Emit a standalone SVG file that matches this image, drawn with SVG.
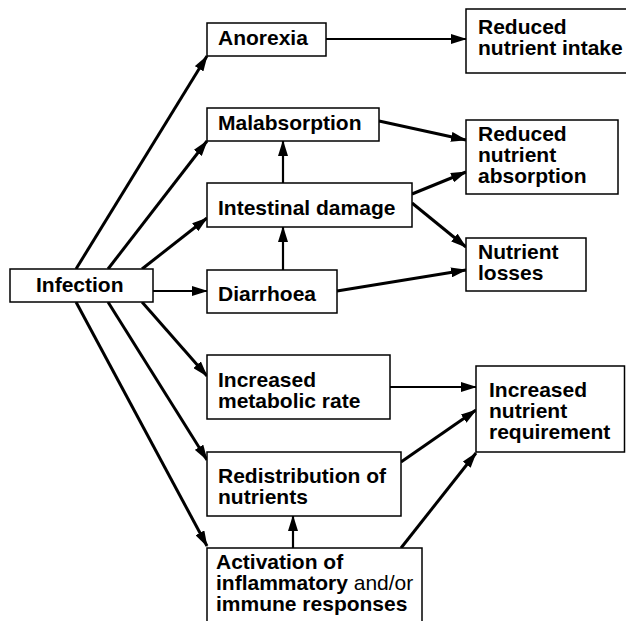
<svg xmlns="http://www.w3.org/2000/svg" width="626" height="621" viewBox="0 0 626 621">
<style>
rect{fill:#fff;stroke:#000;stroke-width:1.5}
text{font-family:"Liberation Sans",Arial,sans-serif;font-size:21px;font-weight:bold;fill:#000}
.n{font-weight:normal}
.c line{stroke:#000;stroke-width:3;fill:none}
.c line.t{stroke-width:2.2}
</style>
<defs>
<marker id="ah" viewBox="0 0 16 10" refX="15" refY="5" markerWidth="16" markerHeight="10" markerUnits="userSpaceOnUse" orient="auto">
<path d="M0,0 L16,5 L0,10 Z" fill="#000"/>
</marker>
</defs>
<rect x="0" y="0" width="626" height="621" style="stroke:none"/>
<g class="c" id="connectors">
<line class="t" x1="326" y1="39" x2="466" y2="39" marker-end="url(#ah)"/>
<line x1="379" y1="121" x2="466" y2="140" marker-end="url(#ah)"/>
<line x1="412" y1="194" x2="466" y2="172" marker-end="url(#ah)"/>
<line x1="412" y1="203" x2="466" y2="247" marker-end="url(#ah)"/>
<line x1="337" y1="291" x2="466" y2="270" marker-end="url(#ah)"/>
<line class="t" x1="390" y1="387" x2="476" y2="387" marker-end="url(#ah)"/>
<line x1="401" y1="462" x2="476" y2="410" marker-end="url(#ah)"/>
<line x1="401" y1="548" x2="476" y2="453" marker-end="url(#ah)"/>
<line class="t" x1="283" y1="183" x2="283" y2="141" marker-end="url(#ah)"/>
<line class="t" x1="283" y1="270" x2="283" y2="227" marker-end="url(#ah)"/>
<line class="t" x1="293" y1="548" x2="293" y2="516" marker-end="url(#ah)"/>
<line class="t" x1="153" y1="291" x2="207" y2="291" marker-end="url(#ah)"/>
<line x1="76" y1="269" x2="207" y2="56" marker-end="url(#ah)"/>
<line x1="108" y1="269" x2="207" y2="141" marker-end="url(#ah)"/>
<line x1="142" y1="269" x2="207" y2="218" marker-end="url(#ah)"/>
<line x1="142" y1="302" x2="207" y2="376" marker-end="url(#ah)"/>
<line x1="108" y1="302" x2="207" y2="460" marker-end="url(#ah)"/>
<line x1="76" y1="302" x2="207" y2="546" marker-end="url(#ah)"/>
</g>
<g id="infection"><rect x="10" y="269" width="143" height="33"/><text x="36" y="292">Infection</text></g>
<g id="anorexia"><rect x="207" y="23" width="119" height="33"/><text x="218" y="45">Anorexia</text></g>
<g id="malabsorption"><rect x="207" y="108" width="172" height="33"/><text x="218" y="130">Malabsorption</text></g>
<g id="intestinal"><rect x="207" y="183" width="205" height="44"/><text x="218" y="215">Intestinal damage</text></g>
<g id="diarrhoea"><rect x="207" y="270" width="130" height="43"/><text x="218" y="301">Diarrhoea</text></g>
<g id="metabolic"><rect x="207" y="355" width="183" height="64"/><text x="218" y="387">Increased</text><text x="218" y="408">metabolic rate</text></g>
<g id="redistribution"><rect x="207" y="452" width="194" height="64"/><text x="218" y="483">Redistribution of</text><text x="218" y="504">nutrients</text></g>
<g id="activation"><rect x="207" y="548" width="215" height="80"/><text x="216" y="569">Activation of</text><text x="216" y="590">inflammatory <tspan class="n">and/or</tspan></text><text x="216" y="611">immune responses</text></g>
<g id="intake"><rect x="466" y="9" width="170" height="64"/><text x="478" y="34">Reduced</text><text x="478" y="55">nutrient intake</text></g>
<g id="absorption"><rect x="466" y="120" width="152" height="74"/><text x="478" y="141">Reduced</text><text x="478" y="162">nutrient</text><text x="478" y="183">absorption</text></g>
<g id="losses"><rect x="466" y="238" width="120" height="53"/><text x="478" y="259">Nutrient</text><text x="478" y="280">losses</text></g>
<g id="requirement"><rect x="476" y="366" width="148.5" height="86"/><text x="489" y="397">Increased</text><text x="489" y="418">nutrient</text><text x="489" y="439">requirement</text></g>
</svg>
